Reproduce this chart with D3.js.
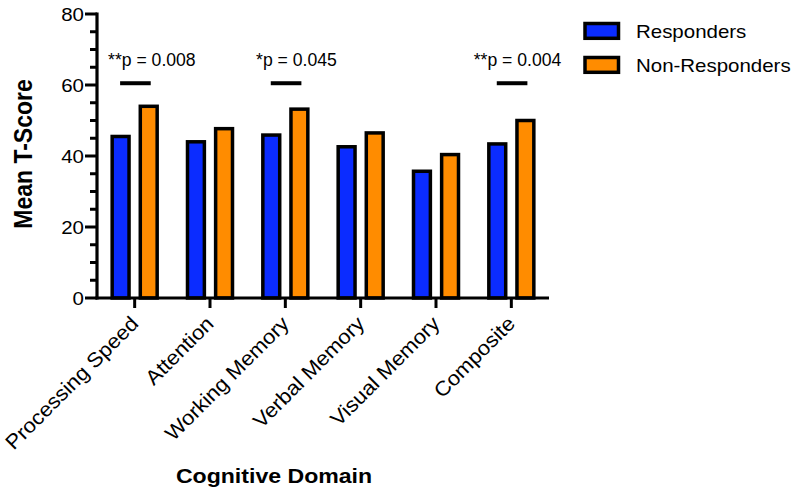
<!DOCTYPE html>
<html><head><meta charset="utf-8">
<script src="https://cdn.jsdelivr.net/npm/d3@7"></script>
<style>
body{margin:0;background:#fff}
svg{display:block}
text{font-family:"Liberation Sans",Arial,Helvetica,sans-serif;fill:#000}
</style>
</head><body>
<svg id="chart" width="800" height="495"></svg>
<script>
// ---- data ----
const categories = ["Processing Speed","Attention","Working Memory","Verbal Memory","Visual Memory","Composite"];
const seriesNames = ["Responders","Non-Responders"];
const responders = [45.5, 44.0, 45.9, 42.6, 35.7, 43.4];
const nonResponders = [54.0, 47.7, 53.2, 46.5, 40.4, 50.0];
const yTickValues = [0, 20, 40, 60, 80];
const sigCategories = ["Processing Speed","Working Memory","Composite"];
const sigLabels = ["**p = 0.008","*p = 0.045","**p = 0.004"];
const sigLevel = 60.5;
const yTitle = "Mean T-Score";
const xTitle = "Cognitive Domain";

// ---- style ----
const colors = ["#0b2cff", "#ff8c00"];
const SX = 1.1; // horizontal stretch of the original image
const svg = d3.select("#chart");

const y = d3.scaleLinear().domain([0, 80]).range([298, 14]);
const x0 = d3.scaleBand().domain(categories).range([97, 549]);
const x1 = d3.scaleBand().domain(seriesNames).range([-22.5, 22.5]).paddingInner(0.4);
const values = [responders, nonResponders];

// bars
const groups = svg.append("g").selectAll("g").data(categories).join("g")
  .attr("transform", d => `translate(${x0(d) + x0.bandwidth()/2},0)`);
groups.selectAll("rect")
  .data((d, i) => seriesNames.map((s, k) => ({s, k, v: values[k][i]})))
  .join("rect")
  .attr("x", d => x1(d.s))
  .attr("width", x1.bandwidth())
  .attr("y", d => y(d.v))
  .attr("height", d => y(0) - y(d.v))
  .attr("fill", d => colors[d.k])
  .attr("stroke", "#000")
  .attr("stroke-width", 3.5);

// y axis
const yAxisG = svg.append("g").attr("transform", "translate(97,0)");
yAxisG.append("line").attr("x1", 0).attr("x2", 0).attr("y1", y(80) - 1.5).attr("y2", y(0) + 1.5)
  .attr("stroke", "#000").attr("stroke-width", 3.2);
const minor = d3.range(0, 81, 5);
yAxisG.selectAll("line.tick").data(minor).join("line").attr("class", "tick")
  .attr("x1", d => yTickValues.includes(d) ? -12 : -7).attr("x2", 0)
  .attr("y1", d => y(d)).attr("y2", d => y(d))
  .attr("stroke", "#000").attr("stroke-width", 3);
yAxisG.selectAll("g.lab").data(yTickValues).join("g").attr("class", "lab")
  .attr("transform", d => `translate(-13,${y(d)}) scale(${SX},1)`)
  .append("text").attr("text-anchor", "end").attr("dy", "0.36em")
  .style("font-size", "18.6px").text(d => d);

// x axis
const xAxisG = svg.append("g");
xAxisG.append("line").attr("x1", 95.5).attr("x2", 549).attr("y1", y(0)).attr("y2", y(0))
  .attr("stroke", "#000").attr("stroke-width", 3.2);
xAxisG.selectAll("line.tick").data(categories).join("line").attr("class", "tick")
  .attr("x1", d => x0(d) + x0.bandwidth()/2).attr("x2", d => x0(d) + x0.bandwidth()/2)
  .attr("y1", y(0)).attr("y2", y(0) + 10)
  .attr("stroke", "#000").attr("stroke-width", 3);
xAxisG.selectAll("g.lab").data(categories).join("g").attr("class", "lab")
  .attr("transform", d => `translate(${x0(d) + x0.bandwidth()/2 + 5},${y(0) + 27}) rotate(-45) scale(1.07,1)`)
  .append("text").attr("text-anchor", "end")
  .style("font-size", "20.5px").text(d => d);

// significance annotations
const labelShift = [-26.6, -29.3, -37.6];
sigCategories.forEach((c, i) => {
  const cx = x0(c) + x0.bandwidth()/2;
  svg.append("line")
    .attr("x1", cx + x1(seriesNames[0]) + x1.bandwidth()/2 - 0.5)
    .attr("x2", cx + x1(seriesNames[1]) + x1.bandwidth()/2 + 2)
    .attr("y1", y(sigLevel)).attr("y2", y(sigLevel))
    .attr("stroke", "#000").attr("stroke-width", 4);
  svg.append("text")
    .attr("x", cx + labelShift[i]).attr("y", y(sigLevel) - 17)
    .style("font-size", "17.6px").text(sigLabels[i]);
});

// legend
const legend = svg.append("g").attr("transform", "translate(585,23.5)");
seriesNames.forEach((s, k) => {
  const g = legend.append("g").attr("transform", `translate(0,${k * 34})`);
  g.append("rect").attr("width", 33.5).attr("height", 14.8)
    .attr("fill", colors[k]).attr("stroke", "#000").attr("stroke-width", 3.5);
  g.append("g").attr("transform", `translate(51,14.8) scale(${SX},1)`)
    .append("text").style("font-size", "18.6px").text(s);
});

// axis titles
svg.append("g").attr("transform", `translate(32,154) scale(${SX},1) rotate(-90)`)
  .append("text").attr("text-anchor", "middle").style("font-size", "23px").style("font-weight", "bold")
  .text(yTitle);
svg.append("g").attr("transform", `translate(274,483) scale(${SX},1)`)
  .append("text").attr("text-anchor", "middle").style("font-size", "21px").style("font-weight", "bold")
  .text(xTitle);
</script>
</body></html>
